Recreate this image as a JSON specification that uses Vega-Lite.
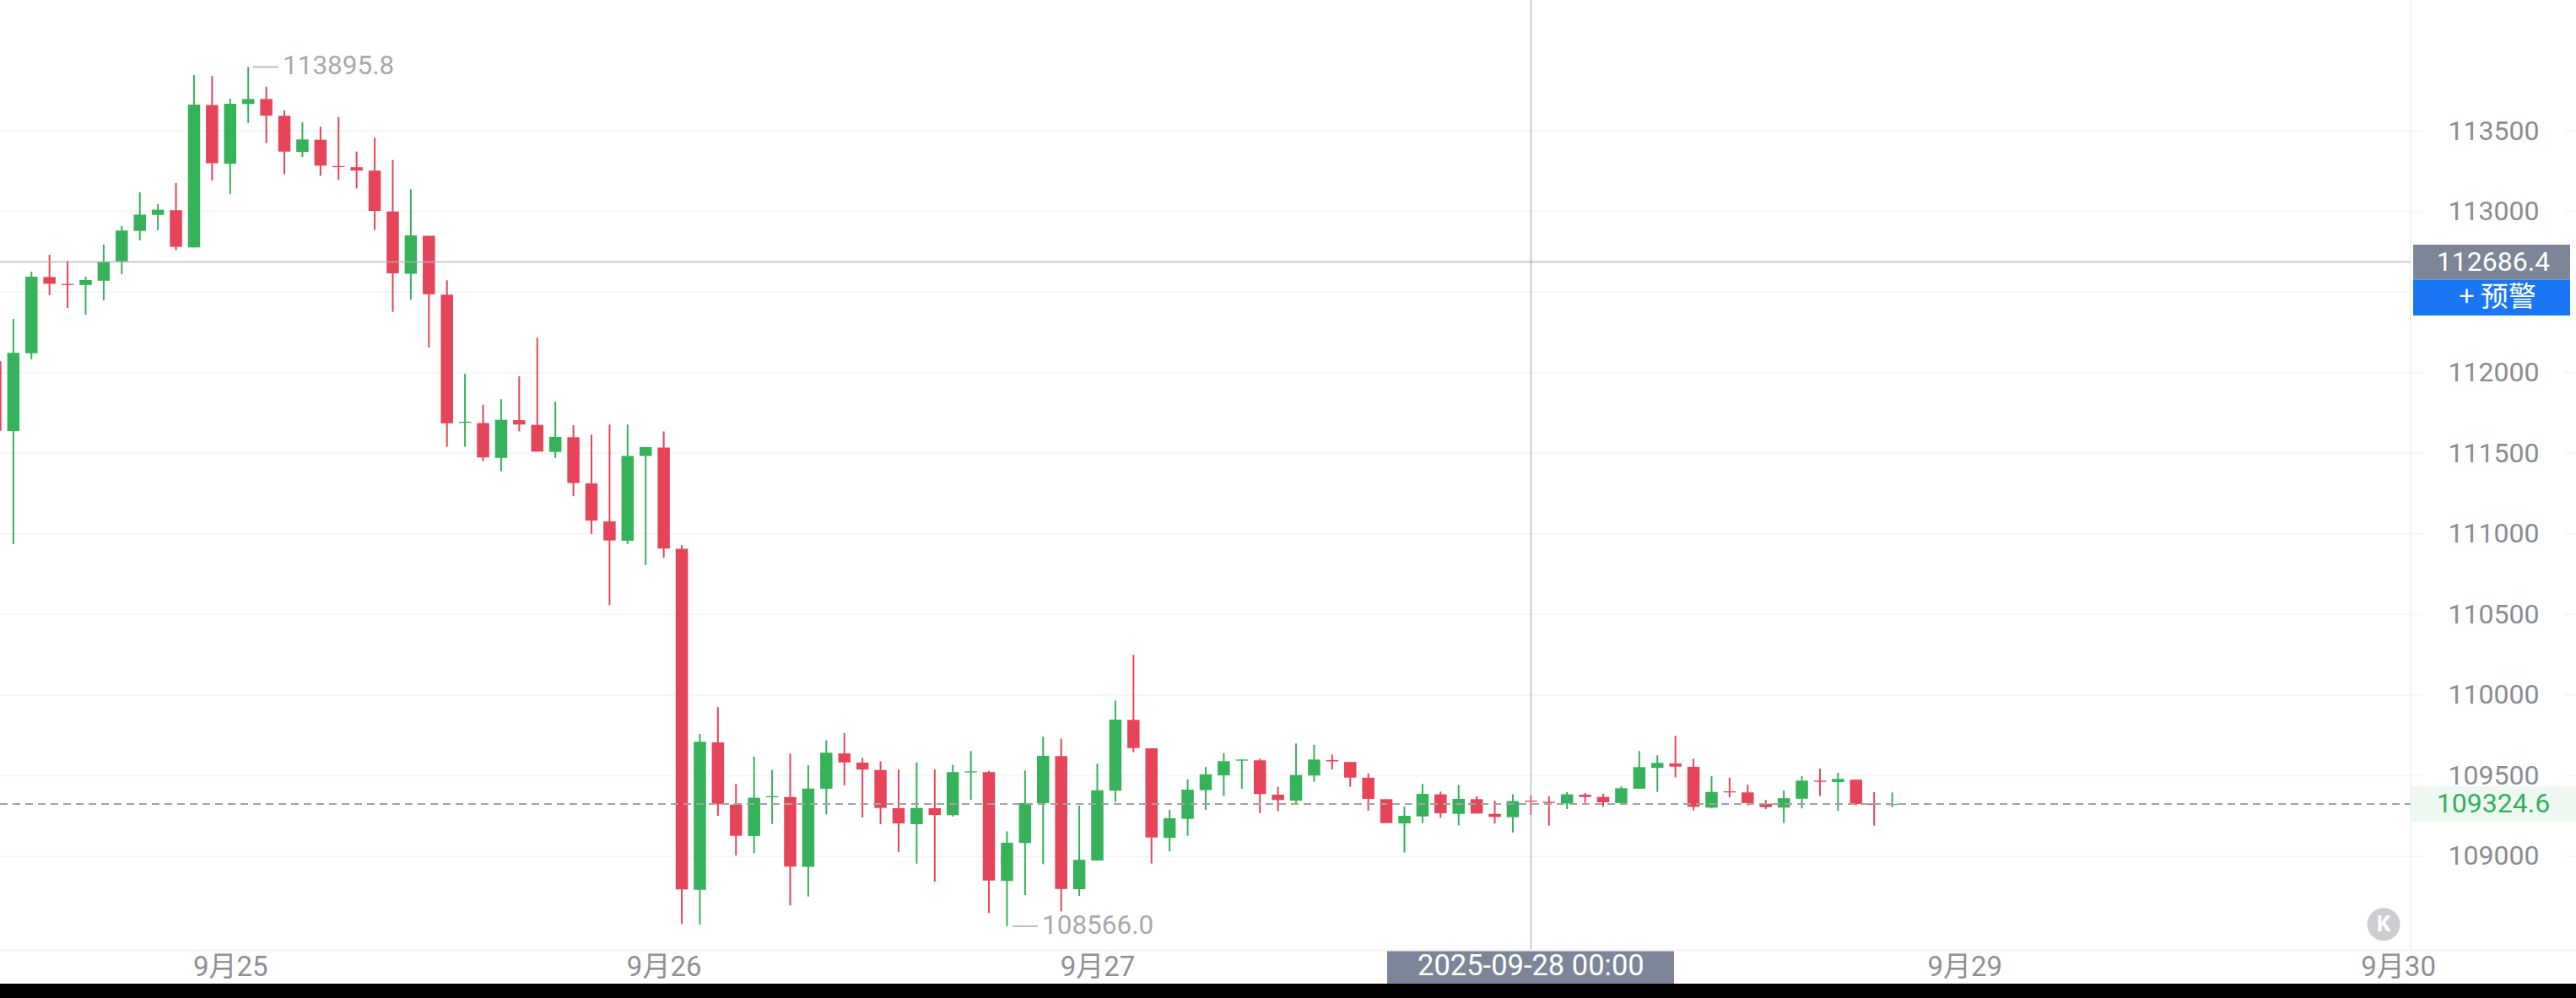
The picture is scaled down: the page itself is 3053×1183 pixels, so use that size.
{
"$schema":"https://vega.github.io/schema/vega-lite/v6.json",
"width":3053,"height":1183,"padding":0,"autosize":{"type":"none"},"background":"#ffffff",
"config":{"view":{"stroke":null},"font":"Roboto"},
"datasets":{
"candles":[
{"t":"2025-09-24T11:00:00Z","open":112070,"high":112070,"low":111639,"close":111639},
{"t":"2025-09-24T12:00:00Z","open":111637,"high":112333,"low":110936,"close":112122},
{"t":"2025-09-24T13:00:00Z","open":112120,"high":112626,"low":112082,"close":112595},
{"t":"2025-09-24T14:00:00Z","open":112593,"high":112731,"low":112480,"close":112551},
{"t":"2025-09-24T15:00:00Z","open":112550,"high":112694,"low":112401,"close":112543},
{"t":"2025-09-24T16:00:00Z","open":112543,"high":112595,"low":112359,"close":112574},
{"t":"2025-09-24T17:00:00Z","open":112570,"high":112794,"low":112448,"close":112689},
{"t":"2025-09-24T18:00:00Z","open":112689,"high":112909,"low":112611,"close":112881},
{"t":"2025-09-24T19:00:00Z","open":112879,"high":113118,"low":112820,"close":112980},
{"t":"2025-09-24T20:00:00Z","open":112978,"high":113046,"low":112883,"close":113010},
{"t":"2025-09-24T21:00:00Z","open":113007,"high":113176,"low":112759,"close":112780},
{"t":"2025-09-24T22:00:00Z","open":112776,"high":113845,"low":112776,"close":113662},
{"t":"2025-09-24T23:00:00Z","open":113659,"high":113839,"low":113191,"close":113298},
{"t":"2025-09-25T00:00:00Z","open":113296,"high":113699,"low":113108,"close":113668},
{"t":"2025-09-25T01:00:00Z","open":113666,"high":113895.8,"low":113549,"close":113697},
{"t":"2025-09-25T02:00:00Z","open":113697,"high":113774,"low":113423,"close":113594},
{"t":"2025-09-25T03:00:00Z","open":113593,"high":113627,"low":113230,"close":113371},
{"t":"2025-09-25T04:00:00Z","open":113369,"high":113552,"low":113338,"close":113446},
{"t":"2025-09-25T05:00:00Z","open":113444,"high":113526,"low":113221,"close":113284},
{"t":"2025-09-25T06:00:00Z","open":113281,"high":113585,"low":113195,"close":113275},
{"t":"2025-09-25T07:00:00Z","open":113274,"high":113371,"low":113142,"close":113253},
{"t":"2025-09-25T08:00:00Z","open":113253,"high":113457,"low":112885,"close":113003},
{"t":"2025-09-25T09:00:00Z","open":112999,"high":113319,"low":112377,"close":112616},
{"t":"2025-09-25T10:00:00Z","open":112613,"high":113137,"low":112452,"close":112851},
{"t":"2025-09-25T11:00:00Z","open":112849,"high":112849,"low":112155,"close":112486},
{"t":"2025-09-25T12:00:00Z","open":112484,"high":112572,"low":111540,"close":111685},
{"t":"2025-09-25T13:00:00Z","open":111688,"high":111992,"low":111540,"close":111695},
{"t":"2025-09-25T14:00:00Z","open":111687,"high":111801,"low":111451,"close":111474},
{"t":"2025-09-25T15:00:00Z","open":111471,"high":111835,"low":111388,"close":111707},
{"t":"2025-09-25T16:00:00Z","open":111705,"high":111977,"low":111635,"close":111678},
{"t":"2025-09-25T17:00:00Z","open":111676,"high":112216,"low":111510,"close":111510},
{"t":"2025-09-25T18:00:00Z","open":111508,"high":111819,"low":111471,"close":111601},
{"t":"2025-09-25T19:00:00Z","open":111599,"high":111674,"low":111233,"close":111315},
{"t":"2025-09-25T20:00:00Z","open":111313,"high":111615,"low":111000,"close":111082},
{"t":"2025-09-25T21:00:00Z","open":111077,"high":111678,"low":110557,"close":110959},
{"t":"2025-09-25T22:00:00Z","open":110957,"high":111678,"low":110936,"close":111483},
{"t":"2025-09-25T23:00:00Z","open":111483,"high":111538,"low":110807,"close":111538},
{"t":"2025-09-26T00:00:00Z","open":111535,"high":111635,"low":110852,"close":110909},
{"t":"2025-09-26T01:00:00Z","open":110907,"high":110929,"low":108580,"close":108794},
{"t":"2025-09-26T02:00:00Z","open":108792,"high":109759,"low":108576,"close":109710},
{"t":"2025-09-26T03:00:00Z","open":109706,"high":109925,"low":109250,"close":109323},
{"t":"2025-09-26T04:00:00Z","open":109321,"high":109449,"low":109005,"close":109127},
{"t":"2025-09-26T05:00:00Z","open":109126,"high":109618,"low":109019,"close":109363},
{"t":"2025-09-26T06:00:00Z","open":109366,"high":109534,"low":109200,"close":109373},
{"t":"2025-09-26T07:00:00Z","open":109368,"high":109637,"low":108695,"close":108936},
{"t":"2025-09-26T08:00:00Z","open":108934,"high":109564,"low":108750,"close":109420},
{"t":"2025-09-26T09:00:00Z","open":109419,"high":109719,"low":109260,"close":109642},
{"t":"2025-09-26T10:00:00Z","open":109638,"high":109764,"low":109440,"close":109582},
{"t":"2025-09-26T11:00:00Z","open":109581,"high":109609,"low":109241,"close":109538},
{"t":"2025-09-26T12:00:00Z","open":109535,"high":109588,"low":109199,"close":109300},
{"t":"2025-09-26T13:00:00Z","open":109298,"high":109538,"low":109026,"close":109204},
{"t":"2025-09-26T14:00:00Z","open":109199,"high":109582,"low":108955,"close":109300},
{"t":"2025-09-26T15:00:00Z","open":109298,"high":109538,"low":108842,"close":109256},
{"t":"2025-09-26T16:00:00Z","open":109255,"high":109567,"low":109246,"close":109522},
{"t":"2025-09-26T17:00:00Z","open":109520,"high":109653,"low":109349,"close":109527},
{"t":"2025-09-26T18:00:00Z","open":109522,"high":109530,"low":108648,"close":108850},
{"t":"2025-09-26T19:00:00Z","open":108847,"high":109155,"low":108566.0,"close":109084},
{"t":"2025-09-26T20:00:00Z","open":109082,"high":109532,"low":108759,"close":109330},
{"t":"2025-09-26T21:00:00Z","open":109330,"high":109742,"low":108951,"close":109623},
{"t":"2025-09-26T22:00:00Z","open":109621,"high":109729,"low":108658,"close":108797},
{"t":"2025-09-26T23:00:00Z","open":108796,"high":109314,"low":108754,"close":108978},
{"t":"2025-09-27T00:00:00Z","open":108974,"high":109574,"low":108974,"close":109410},
{"t":"2025-09-27T01:00:00Z","open":109407,"high":109966,"low":109337,"close":109848},
{"t":"2025-09-27T02:00:00Z","open":109846,"high":110249,"low":109645,"close":109671},
{"t":"2025-09-27T03:00:00Z","open":109670,"high":109670,"low":108955,"close":109117},
{"t":"2025-09-27T04:00:00Z","open":109114,"high":109288,"low":109030,"close":109236},
{"t":"2025-09-27T05:00:00Z","open":109232,"high":109478,"low":109127,"close":109413},
{"t":"2025-09-27T06:00:00Z","open":109410,"high":109553,"low":109288,"close":109508},
{"t":"2025-09-27T07:00:00Z","open":109502,"high":109640,"low":109375,"close":109590},
{"t":"2025-09-27T08:00:00Z","open":109593,"high":109602,"low":109419,"close":109600},
{"t":"2025-09-27T09:00:00Z","open":109595,"high":109605,"low":109268,"close":109386},
{"t":"2025-09-27T10:00:00Z","open":109382,"high":109431,"low":109279,"close":109349},
{"t":"2025-09-27T11:00:00Z","open":109345,"high":109700,"low":109328,"close":109504},
{"t":"2025-09-27T12:00:00Z","open":109501,"high":109692,"low":109462,"close":109600},
{"t":"2025-09-27T13:00:00Z","open":109597,"high":109630,"low":109539,"close":109589},
{"t":"2025-09-27T14:00:00Z","open":109585,"high":109585,"low":109431,"close":109488},
{"t":"2025-09-27T15:00:00Z","open":109487,"high":109514,"low":109284,"close":109356},
{"t":"2025-09-27T16:00:00Z","open":109354,"high":109354,"low":109206,"close":109206},
{"t":"2025-09-27T17:00:00Z","open":109204,"high":109309,"low":109023,"close":109251},
{"t":"2025-09-27T18:00:00Z","open":109247,"high":109449,"low":109206,"close":109387},
{"t":"2025-09-27T19:00:00Z","open":109384,"high":109401,"low":109239,"close":109267},
{"t":"2025-09-27T20:00:00Z","open":109263,"high":109443,"low":109192,"close":109356},
{"t":"2025-09-27T21:00:00Z","open":109354,"high":109372,"low":109265,"close":109265},
{"t":"2025-09-27T22:00:00Z","open":109263,"high":109345,"low":109203,"close":109244},
{"t":"2025-09-27T23:00:00Z","open":109242,"high":109384,"low":109147,"close":109342},
{"t":"2025-09-28T00:00:00Z","open":109345,"high":109378,"low":109256,"close":109338},
{"t":"2025-09-28T01:00:00Z","open":109338,"high":109372,"low":109190,"close":109331},
{"t":"2025-09-28T02:00:00Z","open":109328,"high":109398,"low":109293,"close":109384},
{"t":"2025-09-28T03:00:00Z","open":109382,"high":109392,"low":109331,"close":109368},
{"t":"2025-09-28T04:00:00Z","open":109368,"high":109387,"low":109307,"close":109335},
{"t":"2025-09-28T05:00:00Z","open":109330,"high":109434,"low":109330,"close":109422},
{"t":"2025-09-28T06:00:00Z","open":109419,"high":109653,"low":109419,"close":109553},
{"t":"2025-09-28T07:00:00Z","open":109548,"high":109626,"low":109399,"close":109579},
{"t":"2025-09-28T08:00:00Z","open":109576,"high":109747,"low":109490,"close":109556},
{"t":"2025-09-28T09:00:00Z","open":109555,"high":109605,"low":109284,"close":109307},
{"t":"2025-09-28T10:00:00Z","open":109302,"high":109496,"low":109297,"close":109399},
{"t":"2025-09-28T11:00:00Z","open":109403,"high":109488,"low":109365,"close":109396},
{"t":"2025-09-28T12:00:00Z","open":109396,"high":109443,"low":109316,"close":109330},
{"t":"2025-09-28T13:00:00Z","open":109326,"high":109349,"low":109293,"close":109305},
{"t":"2025-09-28T14:00:00Z","open":109302,"high":109408,"low":109206,"close":109360},
{"t":"2025-09-28T15:00:00Z","open":109357,"high":109497,"low":109297,"close":109469},
{"t":"2025-09-28T16:00:00Z","open":109469,"high":109544,"low":109373,"close":109462},
{"t":"2025-09-28T17:00:00Z","open":109460,"high":109518,"low":109281,"close":109480},
{"t":"2025-09-28T18:00:00Z","open":109475,"high":109475,"low":109316,"close":109324},
{"t":"2025-09-28T19:00:00Z","open":109327,"high":109398,"low":109190,"close":109319},
{"t":"2025-09-28T20:00:00Z","open":109318,"high":109396,"low":109305,"close":109324.6}
],
"ticks":[{"price":109000},{"price":109500},{"price":110000},{"price":110500},{"price":111000},{"price":111500},{"price":112000},{"price":112500},{"price":113000},{"price":113500}],
"extremes":[
{"t":1758762977400,"t2":1758768021540,"tx":1758768862230,"price":113895.8,"label":"113895.8"},
{"t":1758914301600,"t2":1758919345740,"tx":1758920186430,"price":108566.0,"label":"108566.0"}
]
},
"data":{"name":"candles"},
"layer":[
{"data":{"name":"ticks"},"mark":{"type":"rule","color":"#f6f6f8","strokeWidth":2},
 "encoding":{
  "x":{"datum":1758712536000,"type":"temporal","scale":{"type":"utc","padding":0,"domain":[1758712536000,1759225860000]},
   "axis":{"orient":"bottom","offset":-57,"title":null,"values":[1758758400000,1758844800000,1758931200000,1759104000000,1759190400000],"labelExpr":"utcFormat(datum.value,'%-m月%-d')","grid":false,"ticks":false,"domain":true,"domainColor":"#f3f3f4","domainWidth":2,"labelFont":"Roboto, 'Noto Sans CJK SC'","labelFontSize":33,"labelColor":"#8e9096","labelPadding":20,"labelBaseline":"middle","labelAlign":"center","labelAngle":0,"labelOverlap":false,"labelFlush":false,"labelBound":false,"zindex":1}},
  "x2":{"datum":1759195260198},
  "y":{"field":"price","type":"quantitative","scale":{"domain":[108120.9,114311.1],"zero":false,"nice":false},
   "axis":{"orient":"right","title":null,"values":[109000,109500,110000,110500,111000,111500,112000,113000,113500],"format":"d","grid":false,"ticks":false,"domain":false,"labelFont":"Roboto","labelFontSize":32,"labelColor":"#8a8c92","labelPadding":-98,"labelAlign":"center","labelBaseline":"middle","labelOverlap":false,"labelFlush":false,"labelBound":false,"zindex":1}}}},
{"data":{"name":"ticks"},"mark":{"type":"rule","color":"#f6f6f8","strokeWidth":2},
 "encoding":{"x":{"datum":1759223507382,"type":"temporal"},"x2":{"datum":1759225860000},"y":{"field":"price","type":"quantitative"}}},
{"data":{"values":[{}]},"mark":{"type":"rect","fill":"#eef8f1"},
 "encoding":{"x":{"datum":1759192906000,"type":"temporal"},"x2":{"datum":1759225860000},"y":{"datum":109434.3,"type":"quantitative"},"y2":{"datum":109214.6}}},
{"data":{"values":[{}]},"mark":{"type":"rule","color":"#f3f3f4","strokeWidth":2},
 "encoding":{"x":{"datum":1759192906000,"type":"temporal"},"y":{"datum":114311.1,"type":"quantitative"},"y2":{"datum":108419}}},
{"mark":{"type":"rule","strokeWidth":2},
 "encoding":{"x":{"field":"t","type":"temporal","scale":{"type":"utc","padding":0,"domain":[1758712536000,1759225860000]}},"y":{"field":"low","type":"quantitative","scale":{"domain":[108120.9,114311.1],"zero":false,"nice":false}},"y2":{"field":"high"},
  "color":{"condition":{"test":"datum.close>=datum.open","value":"#35b25a"},"value":"#e64458"}}},
{"mark":{"type":"bar","size":14.5},
 "encoding":{"x":{"field":"t","type":"temporal","scale":{"type":"utc","padding":0,"domain":[1758712536000,1759225860000]}},"y":{"field":"open","type":"quantitative","scale":{"domain":[108120.9,114311.1],"zero":false,"nice":false}},"y2":{"field":"close"},
  "color":{"condition":{"test":"datum.close>=datum.open","value":"#35b25a"},"value":"#e64458"}}},
{"data":{"values":[{"price":109324.6}]},"mark":{"type":"rule","color":"#a2a2a2","strokeWidth":2,"strokeDash":[9,6]},
 "encoding":{"x":{"datum":1758712536000,"type":"temporal"},"x2":{"datum":1759192906000},"y":{"field":"price","type":"quantitative"}}},
{"data":{"values":[{"price":112686.4}]},"mark":{"type":"rule","color":"#b4b4b8","opacity":0.7,"strokeWidth":2},
 "encoding":{"x":{"datum":1758712536000,"type":"temporal"},"x2":{"datum":1759192906000},"y":{"field":"price","type":"quantitative"}}},
{"data":{"values":[{"t":"2025-09-28T00:00:00Z"}]},"mark":{"type":"rule","color":"#a8a8ac","opacity":0.75,"strokeWidth":1.5},
 "encoding":{"x":{"field":"t","type":"temporal"},"y":{"datum":114311.1,"type":"quantitative"},"y2":{"datum":108419}}},
{"data":{"name":"extremes"},"mark":{"type":"rule","color":"#bdbdbd","strokeWidth":2},
 "encoding":{"x":{"field":"t","type":"temporal"},"x2":{"field":"t2"},"y":{"field":"price","type":"quantitative"}}},
{"data":{"name":"extremes"},"mark":{"type":"text","align":"left","baseline":"middle","font":"Roboto","fontSize":31.5,"color":"#a9a9ab"},
 "encoding":{"x":{"field":"tx","type":"temporal"},"y":{"field":"price","type":"quantitative"},"text":{"field":"label"}}},
{"data":{"values":[{}]},"mark":{"type":"rect","fill":"#7d8698"},
 "encoding":{"x":{"datum":1759193410680,"type":"temporal"},"x2":{"datum":1759224684348},"y":{"datum":112793.6,"type":"quantitative"},"y2":{"datum":112575.4}}},
{"data":{"values":[{}]},"mark":{"type":"rect","fill":"#1a76f5"},
 "encoding":{"x":{"datum":1759193410680,"type":"temporal"},"x2":{"datum":1759224684348},"y":{"datum":112575.4,"type":"quantitative"},"y2":{"datum":112354.1}}},
{"data":{"values":[{}]},"mark":{"type":"rect","fill":"#7d8698"},
 "encoding":{"x":{"datum":1758988954872,"type":"temporal"},"x2":{"datum":1759046121792},"y":{"datum":108419,"type":"quantitative"},"y2":{"datum":108209.9}}},
{"data":{"values":[{}]},"mark":{"type":"rect","fill":"#000000"},
 "encoding":{"x":{"datum":1758712536000,"type":"temporal"},"x2":{"datum":1759225860000},"y":{"datum":108209.9,"type":"quantitative"},"y2":{"datum":108120.9}}},
{"data":{"values":[{"t":1759209383790,"price":112683,"label":"112686.4"}]},"mark":{"type":"text","align":"center","baseline":"middle","font":"Roboto","fontSize":32,"color":"#ffffff"},
 "encoding":{"x":{"field":"t","type":"temporal"},"y":{"field":"price","type":"quantitative"},"text":{"field":"label"}}},
{"data":{"values":[{"t":1759210224480,"price":112464,"label":"+ 预警"}]},"mark":{"type":"text","align":"center","baseline":"middle","font":"Noto Sans CJK SC","fontSize":33,"color":"#ffffff"},
 "encoding":{"x":{"field":"t","type":"temporal"},"y":{"field":"price","type":"quantitative"},"text":{"field":"label"}}},
{"data":{"values":[{"t":1759209383790,"price":109324.6,"label":"109324.6"}]},"mark":{"type":"text","align":"center","baseline":"middle","font":"Roboto","fontSize":32,"color":"#34b05a"},
 "encoding":{"x":{"field":"t","type":"temporal"},"y":{"field":"price","type":"quantitative"},"text":{"field":"label"}}},
{"data":{"values":[{"t":1759017600000,"price":108314.5,"label":"2025-09-28 00:00"}]},"mark":{"type":"text","align":"center","baseline":"middle","font":"Roboto","fontSize":34.5,"color":"#ffffff"},
 "encoding":{"x":{"field":"t","type":"temporal"},"y":{"field":"price","type":"quantitative"},"text":{"field":"label"}}},
{"data":{"values":[{"t":1759187525850,"price":108577.7}]},"mark":{"type":"point","shape":"circle","filled":true,"size":1520,"color":"#cbcdd2","opacity":1},
 "encoding":{"x":{"field":"t","type":"temporal"},"y":{"field":"price","type":"quantitative"}}},
{"data":{"values":[{"t":1759187525850,"price":108577.7,"label":"K"}]},"mark":{"type":"text","align":"center","baseline":"middle","font":"Roboto","fontWeight":"bold","fontSize":26,"color":"#ffffff"},
 "encoding":{"x":{"field":"t","type":"temporal"},"y":{"field":"price","type":"quantitative"},"text":{"field":"label"}}}
]
}
